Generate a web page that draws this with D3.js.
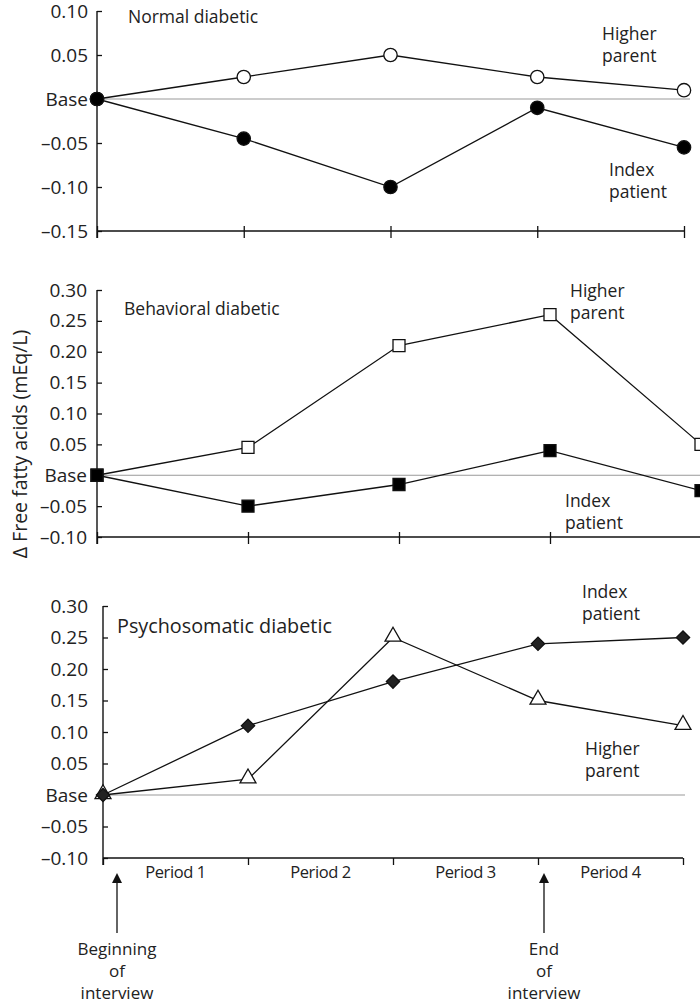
<!DOCTYPE html>
<html>
<head>
<meta charset="utf-8">
<script src="https://cdn.jsdelivr.net/npm/d3@7"></script>
<style>
  html, body { margin: 0; padding: 0; background: #fff; }
  svg { display: block; }
  text { font-family: "Open Sans", "Noto Sans", sans-serif; fill: #222; }
  .period { font-family: "Liberation Sans Narrow", "Open Sans", sans-serif; }
</style>
</head>
<body>
<svg id="chart" width="700" height="1005"></svg>
<script>
// Measurement times: start of interview and the end of each of the four periods
const timePoints = ["t0", "t1", "t2", "t3", "t4"];
const periodLabels = ["Period 1", "Period 2", "Period 3", "Period 4"];

// Change in free fatty acids from base (mEq/L)
const normalParent = [0, 0.025, 0.05, 0.025, 0.01];
const normalIndex = [0, -0.045, -0.10, -0.01, -0.055];
const behavioralParent = [0, 0.045, 0.21, 0.26, 0.05];
const behavioralIndex = [0, -0.05, -0.015, 0.04, -0.025];
const psychoIndex = [0, 0.11, 0.18, 0.24, 0.25];
const psychoParent = [0, 0.025, 0.25, 0.15, 0.11];

// Axis ticks
const normalTicks = [0.10, 0.05, 0, -0.05, -0.10, -0.15];
const normalTickLabels = ["0.10", "0.05", "Base", "\u20130.05", "\u20130.10", "\u20130.15"];
const wideTicks = [0.30, 0.25, 0.20, 0.15, 0.10, 0.05, 0, -0.05, -0.10];
const wideTickLabels = ["0.30", "0.25", "0.20", "0.15", "0.10", "0.05", "Base", "\u20130.05", "\u20130.10"];

const svg = d3.select("#chart");

const panels = [
  {
    left: 97, right: 684, top: 11, bottom: 231, domain: [-0.15, 0.10],
    ticks: normalTicks, tickLabels: normalTickLabels, pad: 9, xTickUp: 5, baseEnd: 690,
    title: { text: "Normal diabetic", x: 128, y: 23, size: 17.5 },
    series: [
      { values: normalParent, marker: "circle", fill: "#fff" },
      { values: normalIndex, marker: "circle", fill: "#000" }
    ],
    notes: [
      { lines: ["Higher", "parent"], x: 602, y: 40 },
      { lines: ["Index", "patient"], x: 609, y: 176 }
    ]
  },
  {
    left: 97, right: 701, top: 290, bottom: 537, domain: [-0.10, 0.30],
    ticks: wideTicks, tickLabels: wideTickLabels, pad: 10, xTickUp: 5, baseEnd: 700,
    title: { text: "Behavioral diabetic", x: 124, y: 315, size: 17.5 },
    series: [
      { values: behavioralParent, marker: "square", fill: "#fff" },
      { values: behavioralIndex, marker: "square", fill: "#000" }
    ],
    notes: [
      { lines: ["Higher", "parent"], x: 570, y: 297 },
      { lines: ["Index", "patient"], x: 565, y: 507 }
    ]
  },
  {
    left: 103, right: 683, top: 606, bottom: 858, domain: [-0.10, 0.30],
    ticks: wideTicks, tickLabels: wideTickLabels, pad: 15, xTickUp: 0, baseEnd: 685,
    title: { text: "Psychosomatic diabetic", x: 117, y: 633, size: 19.8 },
    series: [
      { values: psychoParent, marker: "triangle", fill: "#fff" },
      { values: psychoIndex, marker: "diamond", fill: "#222" }
    ],
    notes: [
      { lines: ["Index", "patient"], x: 582, y: 598 },
      { lines: ["Higher", "parent"], x: 585, y: 755 }
    ],
    periods: true
  }
];

// Marker shapes; the diamond is a square turned by 45 degrees
const symbolTypes = {
  circle: { type: d3.symbolCircle, size: 140, rotate: 0 },
  square: { type: d3.symbolSquare, size: 144, rotate: 0 },
  triangle: { type: d3.symbolTriangle, size: 110, rotate: 0 },
  diamond: { type: d3.symbolSquare, size: 88, rotate: 45 }
};

panels.forEach(p => {
  const x = d3.scalePoint().domain(timePoints).range([p.left, p.right]);
  const y = d3.scaleLinear().domain(p.domain).range([p.bottom, p.top]);
  const g = svg.append("g");

  // Zero reference line
  g.append("line")
    .attr("x1", p.left).attr("x2", p.baseEnd)
    .attr("y1", y(0)).attr("y2", y(0))
    .attr("stroke", "#999").attr("stroke-width", 1);

  // Vertical axis with inward ticks
  const yAxis = d3.axisLeft(y)
    .tickValues(p.ticks)
    .tickFormat((d, i) => p.tickLabels[i])
    .tickSizeInner(-5).tickSizeOuter(0).tickPadding(p.pad);
  const ya = g.append("g").attr("transform", `translate(${p.left},0)`).call(yAxis);
  ya.attr("font-size", 19).attr("font-family", "'Open Sans', sans-serif");
  ya.select(".domain").remove();
  ya.selectAll(".tick line").attr("stroke", "#111").attr("stroke-width", 1.3);
  ya.selectAll(".tick text").attr("fill", "#222");
  g.append("line")
    .attr("x1", p.left).attr("x2", p.left)
    .attr("y1", p.top).attr("y2", p.bottom + 7)
    .attr("stroke", "#111").attr("stroke-width", 1.4);

  // Horizontal time axis
  const xAxis = d3.axisBottom(x).tickFormat("").tickSizeInner(7).tickSizeOuter(0);
  const xa = g.append("g").attr("transform", `translate(0,${p.bottom})`).call(xAxis);
  xa.select(".domain").attr("stroke", "#111").attr("stroke-width", 1.4)
    .attr("d", `M${p.left},0H${Math.min(p.right, 700)}`);
  xa.selectAll(".tick line").attr("y1", -p.xTickUp).attr("stroke", "#111").attr("stroke-width", 1.3);

  // Series lines and markers
  const line = d3.line().x((d, i) => x(timePoints[i])).y(d => y(d));
  p.series.forEach(s => {
    g.append("path").datum(s.values)
      .attr("d", line).attr("fill", "none")
      .attr("stroke", "#111").attr("stroke-width", 1.3);
  });
  p.series.forEach(s => {
    const sym = symbolTypes[s.marker];
    const shift = s.marker === "triangle" ? -1 : 0;
    g.selectAll(null).data(s.values).join("path")
      .attr("transform", (d, i) => `translate(${x(timePoints[i])},${y(d) + shift}) rotate(${sym.rotate})`)
      .attr("d", d3.symbol(sym.type, sym.size))
      .attr("fill", s.fill).attr("stroke", "#111").attr("stroke-width", 1.3);
  });

  // Panel title and series labels
  g.append("text")
    .attr("x", p.title.x).attr("y", p.title.y)
    .attr("font-size", p.title.size).text(p.title.text);
  p.notes.forEach(n => {
    const t = g.append("text").attr("x", n.x).attr("y", n.y).attr("font-size", 17.5);
    n.lines.forEach((l, k) => t.append("tspan").attr("x", n.x).attr("dy", k ? 22 : 0).text(l));
  });

  if (p.periods) {
    // Period names centred between measurement times
    g.selectAll(".period").data(periodLabels).join("text")
      .attr("class", "period")
      .attr("x", (d, i) => (x(timePoints[i]) + x(timePoints[i + 1])) / 2)
      .attr("y", p.bottom + 20)
      .attr("text-anchor", "middle").attr("font-size", 16.5)
      .attr("letter-spacing", -0.4)
      .text(d => d);

    // Interview markers
    const marks = [
      { lines: ["Beginning", "of", "interview"], xpos: 117 },
      { lines: ["End", "of", "interview"], xpos: 544 }
    ];
    marks.forEach(m => {
      const ax = m.xpos;
      g.append("line").attr("x1", ax).attr("x2", ax)
        .attr("y1", p.bottom + 24).attr("y2", p.bottom + 75)
        .attr("stroke", "#111").attr("stroke-width", 1.3);
      g.append("path")
        .attr("d", `M${ax},${p.bottom + 15}L${ax - 5},${p.bottom + 25}L${ax + 5},${p.bottom + 25}Z`)
        .attr("fill", "#111");
      const t = g.append("text").attr("x", ax).attr("y", p.bottom + 97)
        .attr("text-anchor", "middle").attr("font-size", 17);
      m.lines.forEach((l, k) => t.append("tspan").attr("x", ax).attr("dy", k ? 22 : 0).text(l));
    });
  }
});

// Shared vertical axis title
svg.append("text")
  .attr("transform", "translate(27,444) rotate(-90)")
  .attr("text-anchor", "middle").attr("font-size", 19.5)
  .text("\u0394 Free fatty acids (mEq/L)");
</script>
</body>
</html>
